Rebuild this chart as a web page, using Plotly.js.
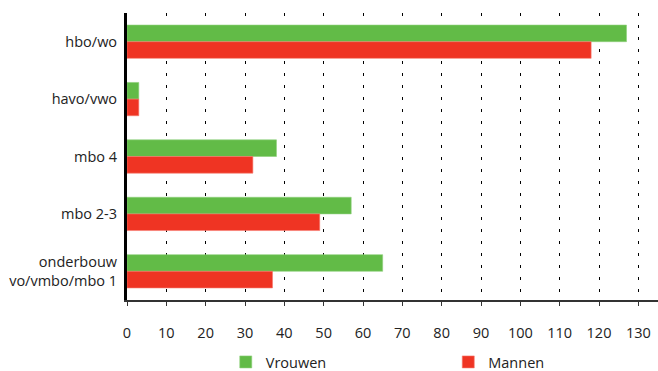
<!DOCTYPE html>
<html>
<head>
<meta charset="utf-8">
<script src="https://cdn.plot.ly/plotly-3.0.1.min.js"></script>
<style>html,body{margin:0;padding:0;background:#fff;}#chart{width:658px;height:371px;}</style>
</head>
<body>
<div id="chart"></div>
<script>
const categories = ["hbo/wo", "havo/vwo", "mbo 4", "mbo 2-3", "onderbouw<br>vo/vmbo/mbo 1"];
const vrouwen = [127, 3, 38, 57, 65];
const mannen = [118, 3, 32, 49, 37];
const tickValues = [0,10,20,30,40,50,60,70,80,90,100,110,120,130];

const FONT = "Open Sans, Noto Sans, sans-serif";

const traces = [
  {type:"bar", orientation:"h", name:"Vrouwen", y:categories, x:vrouwen, legend:"legend",
   marker:{color:"#62bb47", line:{color:"#8fd07c", width:0.6}}, hoverinfo:"x"},
  {type:"bar", orientation:"h", name:"Mannen", y:categories, x:mannen, legend:"legend2",
   marker:{color:"#ef3423", line:{color:"#f67a6e", width:0.6}}, hoverinfo:"x"}
];

const legendCommon = {orientation:"h", y:-0.216, yanchor:"middle", xanchor:"left",
  font:{size:14.5, color:"#222", family:FONT}, bgcolor:"rgba(0,0,0,0)"};

const layout = {
  width:658, height:371,
  margin:{l:127, r:0, t:13, b:71, autoexpand:false},
  paper_bgcolor:"#fff", plot_bgcolor:"#fff",
  barmode:"group", bargap:0.42, bargroupgap:0,
  font:{family:FONT, size:14, color:"#222"},
  xaxis:{
    range:[0,135], tickmode:"array", tickvals:tickValues, ticktext:tickValues.map(String),
    showgrid:true, gridcolor:"#000", gridwidth:1, griddash:"3px,9px",
    zeroline:false, showline:true, linecolor:"#333", linewidth:1.5,
    ticks:"outside", ticklen:4, tickcolor:"#333", tickwidth:1, automargin:false,
    ticklabelstandoff:15, tickfont:{size:14.5, color:"#222", family:FONT}, fixedrange:true
  },
  xaxis2:{
    overlaying:"x", anchor:"y", matches:"x", range:[0,135], tickmode:"array", tickvals:tickValues,
    showgrid:false, zeroline:false, showline:false, showticklabels:false,
    ticks:"inside", ticklen:4, tickcolor:"#333", tickwidth:1
  },
  yaxis:{
    autorange:"reversed", type:"category", showgrid:false, zeroline:false, automargin:false,
    showline:true, linecolor:"#000", linewidth:3, ticks:"", ticklabelstandoff:4,
    tickfont:{size:14.5, color:"#222", family:FONT}, fixedrange:true
  },
  showlegend:true,
  legend:Object.assign({x:0.186}, legendCommon),
  legend2:Object.assign({x:0.605}, legendCommon)
};

Plotly.newPlot("chart", traces, layout, {displayModeBar:false, staticPlot:true});
</script>
</body>
</html>
